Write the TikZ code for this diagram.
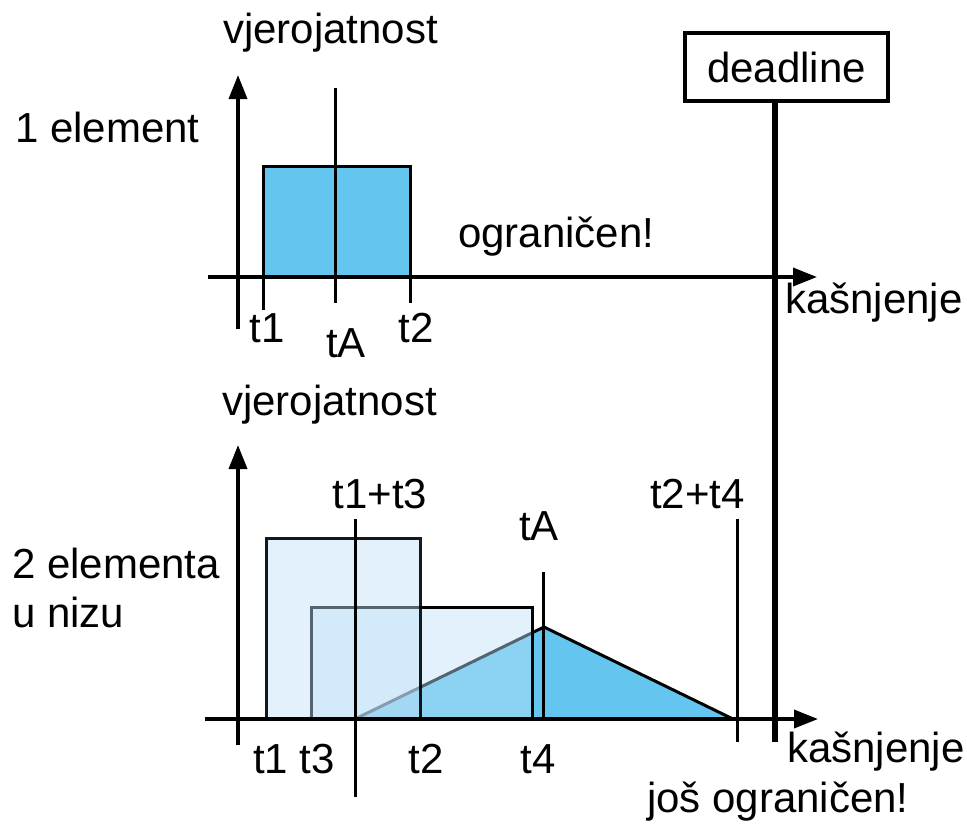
\documentclass[tikz,border=0pt]{standalone}
\usepackage{fontspec}
\setmainfont{Liberation Sans}
\usetikzlibrary{arrows.meta}
\definecolor{cyanfill}{RGB}{100,198,238}
\definecolor{lightfill}{RGB}{190,225,248}
\begin{document}
\begin{tikzpicture}[x=1pt,y=-1pt,
  lbl/.style={inner sep=0pt,font=\fontsize{42}{49}\selectfont},
  axis/.style={line width=3.5pt,-{Triangle[length=24pt,width=18pt]}},
  tick/.style={line width=3pt},
  outl/.style={line width=3pt,line join=miter},
  dlline/.style={line width=6pt},
  dlbox/.style={draw,line width=4pt,minimum width=203pt,minimum height=68pt,inner sep=0pt,font=\fontsize{42}{49}\selectfont}]
\useasboundingbox (0,0) rectangle (967,825);

% ---------- top plot ----------
\fill[cyanfill] (263,166) rectangle (410,277);
\draw[outl] (263,310) -- (263,166) -- (410,166) -- (410,303);
\draw[axis] (238,329) -- (238,75);
\draw[axis] (208,277) -- (817,277);
\draw[tick] (335,88) -- (335,303);

\node[lbl,anchor=base west] (vjer1) at (223,43) {vjerojatnost};
\node[lbl,anchor=base west] (one) at (15,142) {1 element};
\node[lbl,anchor=base west] (ogr) at (458,247) {ograničen!};
\node[lbl,anchor=base west] (kas1) at (785,313) {kašnjenje};
\node[lbl,anchor=base] (t1a) at (267,342) {t1};
\node[lbl,anchor=base] (tAa) at (346,357) {tA};
\node[lbl,anchor=base] (t2a) at (416,342) {t2};

% deadline
\node[dlbox] (dl) at (786.5,67) {deadline};
\coordinate (dlend) at (775,742);
\draw[dlline] (dlend |- dl.south) -- (dlend);

% ---------- bottom plot ----------
\filldraw[fill=cyanfill,draw=black,line width=3pt,line join=miter] (355,719) -- (544,627) -- (733,719) -- cycle;
\filldraw[fill=lightfill,fill opacity=0.45,draw=black,line width=3pt] (311,719) -- (311,607) -- (532,607) -- (532,719);
\filldraw[fill=lightfill,fill opacity=0.45,draw=black,draw opacity=0.9,line width=3pt] (266,719) -- (266,538) -- (420,538) -- (420,719);
\draw[axis] (238,745) -- (238,445);
\draw[axis] (205,719) -- (818,719);
\draw[tick] (355,519) -- (355,797);
\draw[tick] (543,572) -- (543,719);
\draw[tick] (737,519) -- (737,742);

\node[lbl,anchor=base west] (vjer2) at (222,415) {vjerojatnost};
\node[lbl,anchor=base west] (two) at (12,578) {2 elementa};
\node[lbl,anchor=base west] (niz) at (12,627) {u nizu};
\node[lbl,anchor=base] (t13) at (380,508) {t1+t3};
\node[lbl,anchor=base] (tAb) at (539,540) {tA};
\node[lbl,anchor=base] (t24) at (697.5,508) {t2+t4};
\node[lbl,anchor=base west] (t1t3) at (253,773) {t1 t3};
\node[lbl,anchor=base] (t2b) at (426,773) {t2};
\node[lbl,anchor=base] (t4b) at (538,773) {t4};
\node[lbl,anchor=base west] (kas2) at (787,762) {kašnjenje};
\node[lbl,anchor=base west] (jos) at (647,812) {još ograničen!};
\end{tikzpicture}
\end{document}
